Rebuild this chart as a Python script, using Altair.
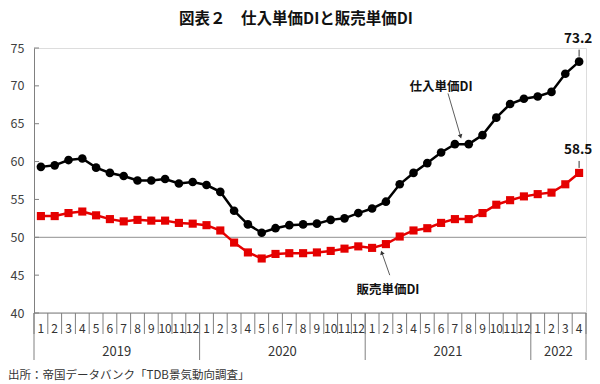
import math
import altair as alt
import pandas as pd

# ---------------- data ----------------
months = list(range(1, 13)) * 3 + [1, 2, 3, 4]
year_labels = ["2019", "2020", "2021", "2022"]
year_bounds = [0, 12, 24, 36, 40]
purchase = [59.3, 59.5, 60.2, 60.4, 59.2, 58.5, 58.1, 57.5, 57.5, 57.7, 57.1, 57.3,
            56.9, 56.0, 53.5, 51.7, 50.6, 51.2, 51.6, 51.7, 51.8, 52.3, 52.5, 53.2,
            53.8, 54.7, 57.0, 58.5, 59.8, 61.2, 62.3, 62.3, 63.5, 65.8, 67.6, 68.3,
            68.6, 69.2, 71.6, 73.2]
selling = [52.8, 52.8, 53.2, 53.4, 52.9, 52.4, 52.1, 52.3, 52.2, 52.2, 51.9, 51.8,
           51.6, 50.9, 49.3, 48.0, 47.2, 47.8, 47.9, 47.9, 48.0, 48.2, 48.5, 48.8,
           48.6, 49.1, 50.1, 50.9, 51.2, 51.9, 52.4, 52.4, 53.2, 54.3, 54.9, 55.4,
           55.7, 55.9, 57.0, 58.5]
y_ticks = [40, 45, 50, 55, 60, 65, 70, 75]
ref_value = [50]
title_text = "図表２　仕入単価DIと販売単価DI"
source_text = "出所：帝国データバンク「TDB景気動向調査」"
series_names = ["仕入単価DI", "販売単価DI"]
# annotation anchors in data space (month index, DI value)
ann_text_x = [29.5, 25.65]
ann_text_y = [69.9, 43.0]
arrow_tail_x = [30.0, 25.78]
arrow_tail_y = [69.0, 45.0]
arrow_tip_x = [30.9, 25.22]
arrow_tip_y = [63.4, 47.9]

# ---------------- layout ----------------
W, H = 552, 265
FONT = "Noto Sans CJK JP"
XDOM = [0, 40]
YDOM = [40, 75]
RED = "#e50000"
GRAY = "#808080"
TXT = "#333333"

xs = alt.Scale(domain=XDOM, nice=False, zero=False)
ys = alt.Scale(domain=YDOM, nice=False, zero=False)

y_axis = alt.Axis(values=y_ticks, grid=False, ticks=False, domain=True,
                  domainColor=GRAY, labelColor="#404040", labelFontSize=12.5,
                  labelPadding=10, title=None, labelFont=FONT,
                  labelOverlap=False, labelBound=False, labelFlush=False)


def Y(field):
    return alt.Y(field, scale=ys, axis=y_axis)


def XQ(field):
    return alt.X(field, scale=xs, axis=None)


df = pd.DataFrame({
    "pos": [i + 0.5 for i in range(len(months))],
    "month": [str(m) for m in months],
    "purchase": purchase,
    "selling": selling,
})

X = XQ("pos:Q")
base = alt.Chart(df)

ref_line = alt.Chart(pd.DataFrame({"v": ref_value})).mark_rule(
    color="#a6a6a6", strokeWidth=1.2).encode(y=Y("v:Q"))

ytick_marks = alt.Chart(pd.DataFrame({"v": y_ticks})).mark_rule(
    color=GRAY, strokeWidth=1).encode(
    y=Y("v:Q"), x=alt.value(0), x2=alt.value(5))

p_line = base.mark_line(color="black", strokeWidth=2.5).encode(x=X, y=Y("purchase:Q"))
p_pts = base.mark_point(shape="circle", filled=True, size=75, color="black", opacity=1).encode(
    x=X, y=Y("purchase:Q"))
s_line = base.mark_line(color=RED, strokeWidth=2.5).encode(x=X, y=Y("selling:Q"))
s_pts = base.mark_point(shape="square", filled=True, size=66, color=RED, opacity=1).encode(
    x=X, y=Y("selling:Q"))

# bottom axis line
axis_line = alt.Chart(pd.DataFrame({"a": [XDOM[0]], "b": [XDOM[1]]})).mark_rule(
    color=GRAY, strokeWidth=1).encode(x=XQ("a:Q"), x2="b:Q", y=alt.value(H))

month_ticks = alt.Chart(pd.DataFrame({"b": list(range(len(months) + 1))})).mark_rule(
    color=GRAY, strokeWidth=1).encode(x=XQ("b:Q"), y=alt.value(H), y2=alt.value(H + 21))

month_labels = base.mark_text(font=FONT, fontSize=12, color=TXT, baseline="middle").encode(
    x=X, y=alt.value(H + 16), text="month:N")

year_rules = alt.Chart(pd.DataFrame({"b": year_bounds})).mark_rule(
    color=GRAY, strokeWidth=1).encode(x=XQ("b:Q"), y=alt.value(H), y2=alt.value(H + 47))

year_df = pd.DataFrame({
    "mid": [(year_bounds[i] + year_bounds[i + 1]) / 2 for i in range(len(year_labels))],
    "label": year_labels,
})
year_text = alt.Chart(year_df).mark_text(font=FONT, fontSize=13, color=TXT, baseline="middle").encode(
    x=XQ("mid:Q"), y=alt.value(H + 39), text="label:N")

# annotations
ann_df = pd.DataFrame({"x": ann_text_x, "y": ann_text_y, "t": series_names})
ann_text = alt.Chart(ann_df).mark_text(font=FONT, fontSize=12.5, fontWeight="bold",
                                       color="#111111", baseline="middle").encode(
    x=XQ("x:Q"), y=Y("y:Q"), text="t:N")

pxx = W / (XDOM[1] - XDOM[0])
pxy = H / (YDOM[1] - YDOM[0])
angles = []
for tx, ty, hx, hy in zip(arrow_tail_x, arrow_tail_y, arrow_tip_x, arrow_tip_y):
    dx = (hx - tx) * pxx
    dy = -(hy - ty) * pxy
    angles.append(math.degrees(math.atan2(dx, -dy)) % 360)

arr_df = pd.DataFrame({"x": arrow_tail_x, "y": arrow_tail_y,
                       "x2": arrow_tip_x, "y2": arrow_tip_y, "ang": angles})
arrow_lines = alt.Chart(arr_df).mark_rule(color="#333333", strokeWidth=0.8).encode(
    x=XQ("x:Q"), y=Y("y:Q"), x2="x2:Q", y2="y2:Q")
arrow_heads = alt.Chart(arr_df).mark_point(shape="triangle", filled=True, size=22,
                                           color="#333333", opacity=1).encode(
    x=XQ("x2:Q"), y=Y("y2:Q"), angle=alt.Angle("ang:Q", scale=None))

end_df = pd.DataFrame({"pos": [df["pos"].iloc[-1]] * 2,
                       "v": [purchase[-1], selling[-1]],
                       "t": [f"{purchase[-1]:.1f}", f"{selling[-1]:.1f}"]})
end_text = alt.Chart(end_df).mark_text(font=FONT, fontSize=13.5, fontWeight="bold",
                                       color="#111111", baseline="middle", dy=-23, dx=-1).encode(
    x=XQ("pos:Q"), y=Y("v:Q"), text="t:N")
end_leader = alt.Chart(end_df).mark_rule(color="#333333", strokeWidth=1,
                                         yOffset=-12, y2Offset=-5).encode(
    x=XQ("pos:Q"), y=Y("v:Q"), y2="v:Q")

title = alt.Chart(pd.DataFrame({"t": [title_text]})).mark_text(
    font=FONT, fontSize=15.5, fontWeight="bold", color="#111111", baseline="middle").encode(
    x=alt.value(262), y=alt.value(-29), text="t:N")

source = alt.Chart(pd.DataFrame({"t": [source_text]})).mark_text(
    font=FONT, fontSize=11.5, color=TXT, baseline="middle", align="left").encode(
    x=alt.value(-26), y=alt.value(H + 63), text="t:N")

chart = alt.layer(
    ref_line, ytick_marks, axis_line, month_ticks, year_rules, month_labels, year_text,
    s_line, s_pts, p_line, p_pts, arrow_lines, arrow_heads, ann_text,
    end_leader, end_text, title, source,
).properties(
    width=W, height=H,
    padding={"left": 26, "top": 40, "right": 6, "bottom": 71},
    autosize=alt.AutoSizeParams(type="none"),
).configure_view(stroke=None).configure(font=FONT).configure_axisY(labelOverlap=False)

chart.save("out.html", embed_options={"renderer": "svg", "actions": False})
